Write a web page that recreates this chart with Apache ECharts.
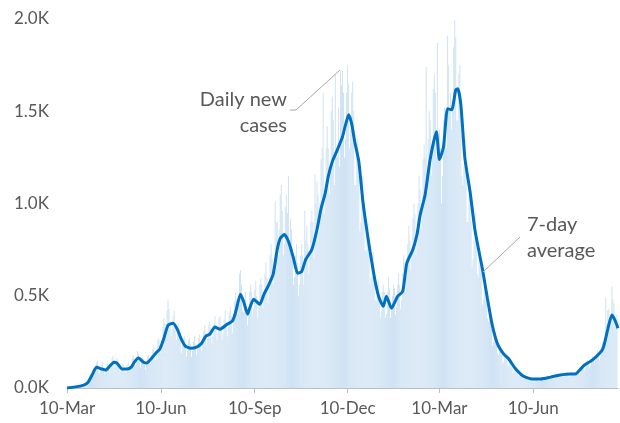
<!DOCTYPE html>
<html>
<head>
<meta charset="utf-8">
<script src="https://cdn.jsdelivr.net/npm/echarts@6/dist/echarts.min.js"></script>
<style>
html,body{margin:0;padding:0;background:#fff;}
#chart{width:620px;height:423px;}
</style>
</head>
<body>
<div id="chart"></div>
<script>
// Day index 0 = 10-Mar-2020
const xTickDays = [0, 92, 184, 275, 365, 457];
const xTickLabels = ['10-Mar', '10-Jun', '10-Sep', '10-Dec', '10-Mar', '10-Jun'];
const yTickValues = [0, 500, 1000, 1500, 2000];
const yTickLabels = ['0.0K', '0.5K', '1.0K', '1.5K', '2.0K'];

// Daily new cases (one value per day, starting 10-Mar-2020)
const dailyCases = [
  0,1,2,1,3,4,2,5,6,4,
  8,6,12,15,10,18,22,14,20,28,
  35,30,55,70,60,95,110,90,120,140,
  150,90,80,110,125,140,100,75,95,120,
  135,100,85,130,160,175,150,110,140,165,
  150,120,85,95,120,130,105,80,90,125,
  140,120,95,130,160,180,150,120,170,200,
  185,150,110,140,165,160,125,100,140,170,
  180,150,130,180,210,230,190,150,210,260,
  270,220,190,260,330,380,350,280,420,480,
  430,360,280,320,390,420,350,260,300,350,
  320,260,190,230,270,280,230,170,200,260,
  270,240,170,200,250,280,240,180,210,270,
  290,250,200,250,310,340,300,230,270,340,
  360,320,240,280,350,390,340,260,300,380,
  390,340,260,300,370,420,360,280,330,410,
  440,390,300,360,470,520,480,400,500,620,
  640,560,420,410,480,520,440,340,400,520,
  560,520,400,430,530,580,500,380,440,560,
  600,560,430,500,620,680,600,460,560,720,
  780,700,560,650,1010,900,900,720,860,1050,
  1100,960,720,780,980,1050,950,1150,760,920,
  860,760,560,600,720,780,680,500,560,720,
  780,720,560,960,800,880,780,620,720,900,
  960,900,700,1160,1000,1120,1050,850,1000,1240,
  1300,1600,940,1050,1300,1420,1300,1050,1200,1500,
  1580,1450,1100,1700,1300,1250,1520,1200,1720,1640,
  1720,1600,1250,1350,1600,1750,1650,1300,1400,1600,
  1660,1500,1100,1100,1300,1350,1150,850,900,1050,
  1150,1000,750,740,880,900,760,560,600,720,
  740,650,480,470,560,580,500,380,420,520,
  560,520,380,400,520,600,540,380,420,500,
  560,540,400,440,560,620,560,430,480,620,
  720,680,520,600,780,880,800,640,760,920,
  1000,940,720,780,1000,1150,1080,860,1000,1240,
  1320,1250,1740,1050,1350,1500,1450,1150,1300,1620,
  1700,1600,1250,1870,1300,1400,1300,1000,1150,1450,
  1520,1450,1300,1910,1750,1500,1600,1400,1550,1850,
  1995,1900,1450,1450,1700,1750,1500,1150,1100,1200,
  1350,1200,900,900,1050,1050,900,650,700,800,
  950,850,620,600,720,720,620,450,480,560,
  600,520,380,360,420,400,320,230,250,290,
  300,260,190,180,220,220,180,130,140,170,
  190,170,120,120,140,140,110,80,90,110,
  110,100,70,65,80,80,60,45,50,60,
  60,55,40,40,50,55,45,35,40,50,
  55,50,38,40,52,58,50,38,42,55,
  60,58,45,48,60,68,60,48,55,70,
  78,72,55,58,72,82,75,60,65,82,
  85,80,60,62,78,88,80,64,72,90,
  100,95,72,80,105,120,115,95,110,140,
  150,140,110,120,150,175,165,135,150,185,
  200,190,150,170,220,250,240,210,490,350,
  420,430,330,370,550,480,460,330,340,400
];

// 7-day average, read at these day indices
const avgDays = [0,13,20,25,29,34,38,42,46,49,54,59,63,66,70,75,78,83,88,91,95,99,104,108,112,116,121,127,132,136,140,145,150,157,162,165,170,173,177,179,183,189,193,197,202,206,209,213,217,222,226,230,234,240,245,249,253,256,260,265,270,273,276,279,282,286,290,294,297,302,306,310,313,318,324,329,333,339,343,346,351,356,362,365,369,373,377,381,383,386,390,395,400,407,412,417,422,428,433,439,447,456,464,474,483,493,498,506,516,525,530,534,537,540];
const avgValues = [0,10,27,75,113,103,97,119,140,135,103,103,113,140,162,140,135,162,195,211,270,340,351,319,265,227,216,222,243,281,292,330,319,346,362,405,508,470,400,432,481,454,508,551,616,751,811,832,795,703,622,632,697,751,859,973,1054,1146,1227,1292,1362,1427,1481,1432,1335,1227,1011,849,741,578,486,443,497,432,497,524,676,751,832,935,1049,1243,1389,1238,1308,1514,1508,1616,1622,1535,1243,1065,849,649,486,335,238,184,157,108,65,49,49,59,70,76,76,119,157,211,319,395,368,324];

const FONT = 'Lato, "Open Sans", sans-serif';
const chart = echarts.init(document.getElementById('chart'), null, {renderer: 'canvas'});
chart.setOption({
  animation: false,
  backgroundColor: '#ffffff',
  grid: {left: 67, right: 2, top: 19, bottom: 35, containLabel: false},
  xAxis: {
    type: 'value', min: 0, max: 540,
    axisLine: {show: true, lineStyle: {color: '#bfbfbf', width: 1}},
    axisTick: {show: true, customValues: xTickDays, length: 5, lineStyle: {color: '#bfbfbf'}},
    axisLabel: {
      customValues: xTickDays,
      formatter: v => { const i = xTickDays.indexOf(v); return i >= 0 ? xTickLabels[i] : ''; },
      color: '#595959', fontSize: 17, fontFamily: FONT, margin: 12
    },
    splitLine: {show: false}
  },
  yAxis: {
    type: 'value', min: 0, max: 2000, interval: 500,
    axisLine: {show: false}, axisTick: {show: false}, splitLine: {show: false},
    axisLabel: {
      align: 'left', margin: 53,
      formatter: v => { const i = yTickValues.indexOf(v); return i >= 0 ? yTickLabels[i] : ''; },
      color: '#595959', fontSize: 17, fontFamily: FONT
    }
  },
  series: [
    {
      type: 'bar', name: 'Daily new cases',
      data: dailyCases.map((v, i) => [i, v]),
      barWidth: 1,
      itemStyle: {color: '#d0e3f4'},
      silent: true
    },
    {
      type: 'line', name: '7-day average',
      data: avgDays.map((d, i) => [d, avgValues[i]]),
      showSymbol: false, smooth: 0.2,
      lineStyle: {color: '#0070c0', width: 3},
      silent: true, z: 3
    }
  ],
  graphic: [
    {type: 'polyline', shape: {points: [[290, 110], [296, 110], [340, 70]]}, style: {stroke: '#a6a6a6', lineWidth: 1, fill: null}, z: 10},
    {type: 'text', style: {text: 'Daily new\ncases', x: 287, y: 113, align: 'right', verticalAlign: 'middle', fontSize: 20, fontFamily: FONT, fill: '#595959', lineHeight: 26}, z: 10},
    {type: 'polyline', shape: {points: [[520, 237], [483, 272]]}, style: {stroke: '#a6a6a6', lineWidth: 1, fill: null}, z: 10},
    {type: 'text', style: {text: '7-day\naverage', x: 527, y: 238, align: 'left', verticalAlign: 'middle', fontSize: 20, fontFamily: FONT, fill: '#595959', lineHeight: 26}, z: 10}
  ]
});
</script>
</body>
</html>
